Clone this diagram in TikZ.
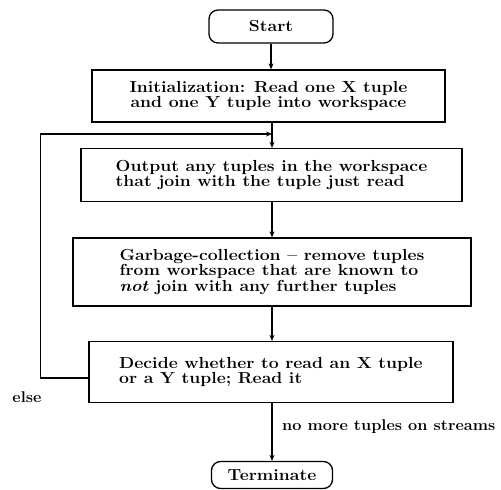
\documentclass[tikz,border=0pt]{standalone}
\usepackage{fontspec}
\usetikzlibrary{arrows.meta}
\newfontfamily\widefont{Latin Modern Roman}[FakeStretch=1.1,Ligatures=TeX]
\newfontfamily\labelfont{Latin Modern Roman}[FakeStretch=1.05,Ligatures=TeX]
\begin{document}
\begin{tikzpicture}[x=1pt,y=-1pt,
  txt/.style={font=\widefont\fontsize{16}{15.5}\selectfont\bfseries},
  box/.style={draw,line width=1.3pt,align=left,inner sep=0pt,txt},
  term/.style={draw,line width=1.3pt,rounded corners=9pt,inner sep=0pt,txt},
  arr/.style={line width=1.3pt,-{Stealth[length=6pt,width=5pt]}},
  lbl/.style={font=\labelfont\fontsize{15.5}{15.5}\selectfont\bfseries,inner sep=0pt}]
\useasboundingbox (0,0) rectangle (501,490);
\node[term,minimum width=124pt,minimum height=33pt] (start) at (271,26.5) {Start};
\node[box,minimum width=353pt,minimum height=52pt,align=center] (init) at (268.5,96) {Initialization: Read one X tuple\\ and one Y tuple into workspace};
\node[box,minimum width=381pt,minimum height=53pt] (out) at (271.5,175) {Output any tuples in the workspace\\that join with the tuple just read};
\node[box,minimum width=398pt,minimum height=68pt] (gc) at (272,272) {Garbage-collection -- remove tuples\\from workspace that are known to\\\textit{not} join with any further tuples};
\node[box,minimum width=364pt,minimum height=61pt] (dec) at (271,372) {Decide whether to read an X tuple\\or a Y tuple; Read it};
\node[term,minimum width=121pt,minimum height=27pt] (term) at (272,475) {Terminate};
\node[lbl] (else) at (27,397) {else};
\node[lbl,anchor=west] (nomore) at (282,427) {no more tuples on streams};
\coordinate (j) at (272,134);
\draw[arr] (start.south) -- (start.south |- init.north);
\draw[line width=1.3pt] (init.south -| j) -- (j);
\draw[arr] (j) -- (j |- out.north);
\draw[arr] (out.south -| j) -- (j |- gc.north);
\draw[arr] (gc.south -| j) -- (j |- dec.north);
\draw[arr] (dec.south -| j) -- (j |- term.north);
\draw[arr] ([yshift=-6pt]dec.west) -- ++(-48,0) |- (j);
\end{tikzpicture}
\end{document}
